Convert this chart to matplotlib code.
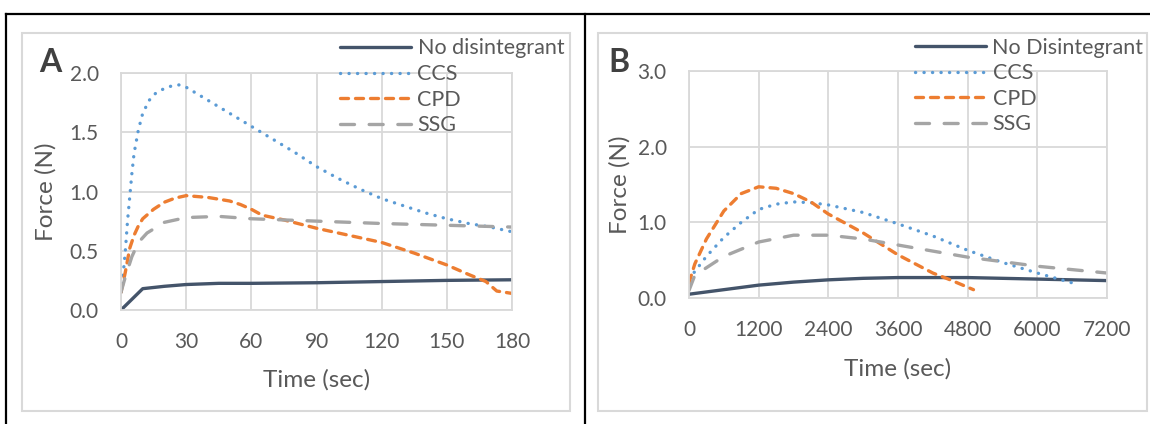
import matplotlib

matplotlib.use("Agg")
import matplotlib.pyplot as plt
from matplotlib.lines import Line2D
from matplotlib.patches import Rectangle

plt.rcParams["font.family"] = ["Lato", "DejaVu Sans"]

# --- panel A: short test, 0-180 s ---
a_none_t = [0, 10, 20, 30, 45, 60, 90, 120, 150, 180]
a_none_f = [0.0, 0.18, 0.20, 0.215, 0.225, 0.225, 0.23, 0.24, 0.25, 0.255]
a_ccs_t = [0, 1, 2, 3, 4, 5, 6, 8, 10, 13, 16, 20, 24, 27, 30, 40, 50, 60,
           70, 80, 90, 100, 110, 120, 130, 140, 150, 160, 170, 180]
a_ccs_f = [0.15, 0.3, 0.5, 0.75, 0.95, 1.15, 1.32, 1.52, 1.66, 1.77, 1.83, 1.87,
           1.895, 1.9, 1.88, 1.77, 1.66, 1.55, 1.44, 1.33, 1.21, 1.11, 1.02,
           0.94, 0.88, 0.82, 0.77, 0.73, 0.70, 0.66]
a_cpd_t = [0, 2, 4, 6, 8, 10, 15, 20, 25, 30, 40, 50, 55, 60, 65, 75, 90,
           100, 120, 135, 150, 160, 168, 173, 180]
a_cpd_f = [0.15, 0.32, 0.52, 0.63, 0.71, 0.77, 0.85, 0.91, 0.945, 0.965, 0.95,
           0.92, 0.89, 0.85, 0.80, 0.76, 0.69, 0.65, 0.57, 0.48, 0.38, 0.30,
           0.24, 0.16, 0.14]
a_ssg_t = [0, 2, 5, 8, 12, 20, 30, 45, 60, 75, 90, 120, 150, 180]
a_ssg_f = [0.15, 0.28, 0.45, 0.57, 0.65, 0.74, 0.78, 0.79, 0.77, 0.76, 0.75,
           0.73, 0.715, 0.70]

# --- panel B: long test, 0-7200 s ---
b_none_t = [0, 300, 600, 1200, 1800, 2400, 3000, 3600, 4200, 4800, 5400,
            6000, 6600, 7200]
b_none_f = [0.05, 0.08, 0.11, 0.17, 0.21, 0.24, 0.26, 0.27, 0.27, 0.27, 0.26,
            0.25, 0.24, 0.23]
b_ccs_t = [0, 100, 300, 600, 900, 1200, 1500, 1800, 2100, 2400, 3000, 3600,
           4200, 4800, 5400, 6000, 6600]
b_ccs_f = [0.25, 0.35, 0.55, 0.80, 1.00, 1.17, 1.24, 1.27, 1.26, 1.23, 1.13,
           0.98, 0.82, 0.63, 0.47, 0.33, 0.20]
b_cpd_t = [0, 100, 300, 600, 900, 1200, 1500, 1800, 2100, 2400, 3000, 3600,
           4200, 4500, 4900]
b_cpd_f = [0.20, 0.45, 0.78, 1.15, 1.38, 1.47, 1.45, 1.38, 1.27, 1.11, 0.86,
           0.57, 0.33, 0.24, 0.11]
b_ssg_t = [0, 100, 600, 1200, 1800, 2400, 3000, 3600, 4200, 4800, 6000, 7200]
b_ssg_f = [0.10, 0.30, 0.55, 0.74, 0.83, 0.83, 0.78, 0.70, 0.62, 0.54, 0.42,
           0.33]

a_xticks = [0, 30, 60, 90, 120, 150, 180]
a_yticks = [0.0, 0.5, 1.0, 1.5, 2.0]
b_xticks = [0, 1200, 2400, 3600, 4800, 6000, 7200]
b_yticks = [0.0, 1.0, 2.0, 3.0]

a_labels = ["No disintegrant", "CCS", "CPD", "SSG"]
b_labels = ["No Disintegrant", "CCS", "CPD", "SSG"]

W, H = 1150, 424
TXT = "#595959"
GRID = "#D9D9D9"

STYLES = [
    dict(color="#44546A", lw=2.4, ls="-", solid_capstyle="round"),
    dict(color="#5B9BD5", lw=2.4, ls=(0, (0.05, 2.5)), dash_capstyle="round"),
    dict(color="#ED7D31", lw=2.4, ls=(0, (2.4, 2.1)), dash_capstyle="round"),
    dict(color="#A5A5A5", lw=2.4, ls=(0, (4.2, 4.4)), dash_capstyle="round"),
]


def px_axes(fig, left, top, right, bottom):
    return fig.add_axes([left / W, 1 - bottom / H, (right - left) / W,
                         (bottom - top) / H])


def fig_line(fig, x0, y0, x1, y1, **kw):
    fig.add_artist(Line2D([x0 / W, x1 / W], [1 - y0 / H, 1 - y1 / H],
                          transform=fig.transFigure, **kw))


def draw_panel(fig, box, letter, letter_xy, series, labels, xlim, ylim,
               xticks, yticks, yfmt, xlab_xy, ylab_xy, leg_xy):
    ax = px_axes(fig, *box)
    for (t, f), lab, st in zip(series, labels, STYLES):
        ax.plot(t, f, label=lab, **st)
    ax.set_xlim(*xlim)
    ax.set_ylim(*ylim)
    ax.set_xticks(xticks)
    ax.set_yticks(yticks)
    ax.set_yticklabels([yfmt.format(v) for v in yticks])
    ax.grid(True, color=GRID, lw=1.3)
    ax.set_axisbelow(True)
    for sp in ax.spines.values():
        sp.set_color(GRID)
        sp.set_linewidth(1.3)
    ax.tick_params(length=0, labelsize=15, labelcolor=TXT, pad=16)

    ax.set_xlabel("Time (sec)", fontsize=17.5, color=TXT)
    ax.set_ylabel("Force (N)", fontsize=17.5, color=TXT)
    ax.xaxis.set_label_coords(*xlab_xy)
    ax.yaxis.set_label_coords(*ylab_xy)
    ax.xaxis.label.set_va("center")
    ax.yaxis.label.set_va("center")

    leg = ax.legend(loc="upper left", bbox_to_anchor=(leg_xy[0] / W, 1 - leg_xy[1] / H),
                    bbox_transform=fig.transFigure, frameon=False, fontsize=15.5,
                    borderpad=0, borderaxespad=0, handlelength=3.3,
                    handletextpad=0.3, labelspacing=0.26)
    for txt in leg.get_texts():
        txt.set_color(TXT)
    fig.text(letter_xy[0] / W, 1 - letter_xy[1] / H, letter, fontsize=23,
             fontweight="bold", color="#404040", ha="center", va="center")
    return ax


fig = plt.figure(figsize=(W / 100, H / 100), dpi=100)

# cell borders and chart-area frames
border = dict(color="black", lw=1.6)
fig_line(fig, 6, 14, W, 14, **border)
fig_line(fig, 6, 14, 6, H, **border)
fig_line(fig, 585, 14, 585, H, **border)
for x0, x1 in [(22, 570), (598, 1147)]:
    fig.add_artist(Rectangle((x0 / W, 1 - 411 / H), (x1 - x0) / W, (411 - 33) / H,
                             transform=fig.transFigure, fill=False,
                             edgecolor=GRID, lw=1.5))

draw_panel(fig, (121, 73, 512, 310), "A", (50, 62),
           [(a_none_t, a_none_f), (a_ccs_t, a_ccs_f), (a_cpd_t, a_cpd_f),
            (a_ssg_t, a_ssg_f)],
           a_labels, (0, 180), (0, 2.0), a_xticks, a_yticks, "{:.1f}",
           (0.5, -0.295), (-0.192, 0.498), (340, 38.5))

draw_panel(fig, (689, 71, 1107, 298), "B", (619, 62),
           [(b_none_t, b_none_f), (b_ccs_t, b_ccs_f), (b_cpd_t, b_cpd_f),
            (b_ssg_t, b_ssg_f)],
           b_labels, (0, 7200), (0, 3.0), b_xticks, b_yticks, "{:.1f}",
           (0.5, -0.313), (-0.165, 0.498), (915, 37.5))

fig.savefig("out.png", dpi=100)
